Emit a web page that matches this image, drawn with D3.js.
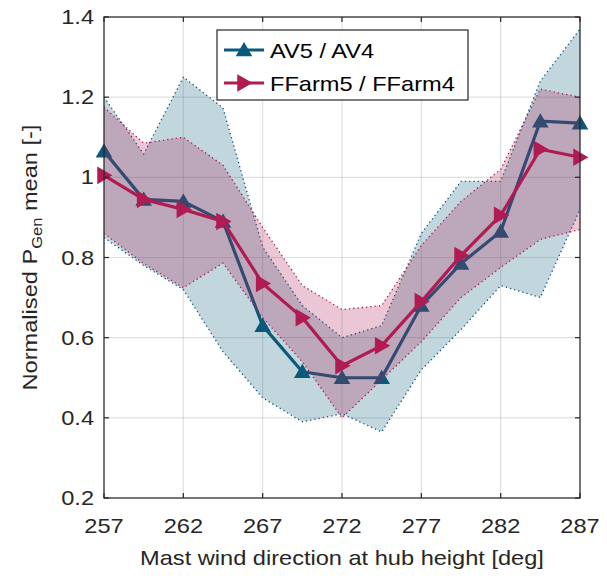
<!DOCTYPE html>
<html>
<head>
<meta charset="utf-8">
<script src="https://cdn.jsdelivr.net/npm/d3@7"></script>
<style>
  html, body { margin: 0; padding: 0; background: #fff; }
  svg { display: block; font-family: "Liberation Sans", Arial, Helvetica, sans-serif; }
</style>
</head>
<body>
<svg id="chart" width="607" height="578"></svg>
<script>
// Wind direction bins (deg)
const directions = [257, 259.5, 262, 264.5, 267, 269.5, 272, 274.5, 277, 279.5, 282, 284.5, 287];

// AV5 / AV4 normalised mean power and its spread
const avMean  = [1.065, 0.945, 0.94, 0.89, 0.63, 0.515, 0.50, 0.50, 0.68, 0.785, 0.865, 1.14, 1.135];
const avLow   = [0.85, 0.78, 0.72, 0.565, 0.45, 0.39, 0.41, 0.365, 0.52, 0.62, 0.73, 0.70, 0.92];
const avHigh  = [1.20, 1.058, 1.25, 1.173, 0.826, 0.68, 0.60, 0.63, 0.86, 0.99, 0.99, 1.24, 1.37];

// FFarm5 / FFarm4 normalised mean power and its spread
const ffMean  = [1.005, 0.945, 0.92, 0.89, 0.735, 0.65, 0.53, 0.58, 0.69, 0.805, 0.905, 1.07, 1.05];
const ffLow   = [0.86, 0.785, 0.725, 0.786, 0.65, 0.54, 0.40, 0.495, 0.59, 0.70, 0.775, 0.845, 0.87];
const ffHigh  = [1.175, 1.085, 1.10, 1.03, 0.875, 0.73, 0.67, 0.68, 0.83, 0.94, 1.02, 1.22, 1.20];

const xTicks = [257, 262, 267, 272, 277, 282, 287];
const yTicks = [0.2, 0.4, 0.6, 0.8, 1.0, 1.2, 1.4];
const seriesNames = ["AV5 / AV4", "FFarm5 / FFarm4"];

const blue = "#0b5a7b";
const red  = "#b01c52";
const axisColor = "#262626";
const textStretch = 1.18;   // wide sans lettering

const svg = d3.select("#chart");
const plot = { left: 104, right: 580, top: 17, bottom: 498 };

const x = d3.scaleLinear().domain([257, 287]).range([plot.left, plot.right]);
const y = d3.scaleLinear().domain([0.2, 1.4]).range([plot.bottom, plot.top]);

// Text placed at (px, py), widened along its own baseline
function label(parent, px, py, str, opts = {}) {
  const rot = opts.rotate ? ` rotate(${opts.rotate})` : "";
  return parent.append("text")
    .attr("transform", `translate(${px},${py})${rot} scale(${textStretch},1)`)
    .attr("text-anchor", opts.anchor || "start")
    .attr("font-size", opts.size || 20)
    .attr("fill", opts.fill || axisColor)
    .text(str);
}

// Grid
const grid = svg.append("g");
grid.selectAll("line.gx").data(xTicks).join("line")
  .attr("x1", d => x(d)).attr("x2", d => x(d))
  .attr("y1", plot.top).attr("y2", plot.bottom)
  .attr("stroke", "#000").attr("stroke-opacity", 0.12).attr("stroke-width", 1.2);
grid.selectAll("line.gy").data(yTicks).join("line")
  .attr("y1", d => y(d)).attr("y2", d => y(d))
  .attr("x1", plot.left).attr("x2", plot.right)
  .attr("stroke", "#000").attr("stroke-opacity", 0.12).attr("stroke-width", 1.2);

const idx = d3.range(directions.length);

function drawSeries(mean, low, high, color, markerPath) {
  const g = svg.append("g");
  const area = d3.area()
    .x(i => x(directions[i]))
    .y0(i => y(low[i]))
    .y1(i => y(high[i]));
  g.append("path").datum(idx).attr("d", area)
    .attr("fill", color).attr("fill-opacity", 0.25).attr("stroke", "none");

  const edge = arr => d3.line().x(i => x(directions[i])).y(i => y(arr[i]));
  [low, high].forEach(arr => {
    g.append("path").datum(idx).attr("d", edge(arr))
      .attr("fill", "none").attr("stroke", color).attr("stroke-width", 1.3)
      .attr("stroke-dasharray", "1.3,3");
  });

  g.append("path").datum(idx)
    .attr("d", d3.line().x(i => x(directions[i])).y(i => y(mean[i])))
    .attr("fill", "none").attr("stroke", color).attr("stroke-width", 3.2)
    .attr("stroke-linejoin", "round");

  g.selectAll("path.m").data(idx).join("path")
    .attr("transform", i => `translate(${x(directions[i])},${y(mean[i])})`)
    .attr("d", markerPath)
    .attr("fill", color).attr("stroke", color).attr("stroke-width", 1.5)
    .attr("stroke-linejoin", "miter");
}

const triUp = "M0,-6.5L7,5.5L-7,5.5Z";
const triRight = "M7,0L-6,-7.5L-6,7.5Z";

drawSeries(avMean, avLow, avHigh, blue, triUp);
drawSeries(ffMean, ffLow, ffHigh, red, triRight);

// Axes box and ticks
const axes = svg.append("g");
axes.append("rect")
  .attr("x", plot.left).attr("y", plot.top)
  .attr("width", plot.right - plot.left).attr("height", plot.bottom - plot.top)
  .attr("fill", "none").attr("stroke", axisColor).attr("stroke-width", 1.2);

const tickLen = 5;
xTicks.forEach(t => {
  axes.append("line").attr("x1", x(t)).attr("x2", x(t))
    .attr("y1", plot.bottom).attr("y2", plot.bottom - tickLen).attr("stroke", axisColor).attr("stroke-width", 1.2);
  axes.append("line").attr("x1", x(t)).attr("x2", x(t))
    .attr("y1", plot.top).attr("y2", plot.top + tickLen).attr("stroke", axisColor).attr("stroke-width", 1.2);
});
yTicks.forEach(t => {
  axes.append("line").attr("y1", y(t)).attr("y2", y(t))
    .attr("x1", plot.left).attr("x2", plot.left + tickLen).attr("stroke", axisColor).attr("stroke-width", 1.2);
  axes.append("line").attr("y1", y(t)).attr("y2", y(t))
    .attr("x1", plot.right).attr("x2", plot.right - tickLen).attr("stroke", axisColor).attr("stroke-width", 1.2);
});

// Tick labels
xTicks.forEach(t => label(axes, x(t), 533, d3.format("d")(t), { anchor: "middle" }));
yTicks.forEach(t => label(axes, 94, y(t) + 7, d3.format("~g")(t), { anchor: "end" }));

// Axis titles
label(svg, (plot.left + plot.right) / 2, 565, "Mast wind direction at hub height [deg]", { anchor: "middle" });

const yTitle = label(svg, 37, (plot.top + plot.bottom) / 2, "", { anchor: "middle", rotate: -90 });
yTitle.append("tspan").text("Normalised P");
yTitle.append("tspan").attr("font-size", 14).attr("dy", 5).text("Gen");
yTitle.append("tspan").attr("dy", -5).text(" mean [-]");

// Legend
const legend = svg.append("g");
legend.append("rect")
  .attr("x", 217).attr("y", 30).attr("width", 251).attr("height", 70)
  .attr("fill", "#fff").attr("stroke", axisColor).attr("stroke-width", 1.2);
const legendRows = [
  { name: seriesNames[0], color: blue, marker: triUp, cy: 50 },
  { name: seriesNames[1], color: red, marker: triRight, cy: 83 }
];
legendRows.forEach(r => {
  legend.append("line").attr("x1", 224).attr("x2", 264).attr("y1", r.cy).attr("y2", r.cy)
    .attr("stroke", r.color).attr("stroke-width", 3.2);
  legend.append("path").attr("transform", `translate(244,${r.cy})`).attr("d", r.marker)
    .attr("fill", r.color).attr("stroke", r.color).attr("stroke-width", 1.5);
  label(legend, 270, r.cy + 8, r.name, { fill: "#000" });
});
</script>
</body>
</html>
